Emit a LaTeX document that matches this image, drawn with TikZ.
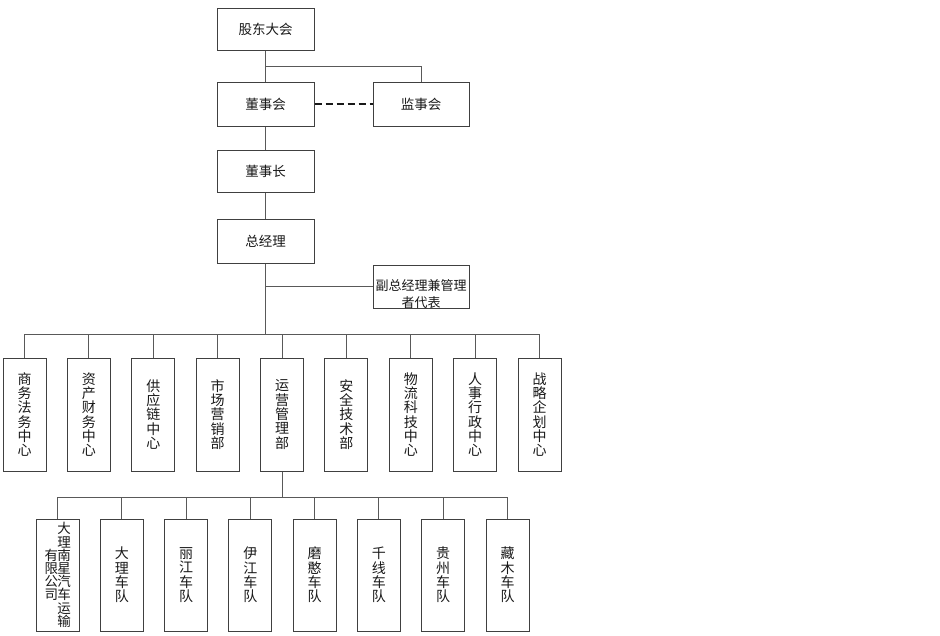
\documentclass[tikz,border=0pt]{standalone}
\usepackage{fontspec}
\setmainfont{Noto Sans CJK SC}
\begin{document}
\begin{tikzpicture}[x=1pt,y=-1pt,
  box/.style={draw=black!75, line width=1pt, inner sep=0pt, align=center,
    text=black!90, font=\fontsize{13.5}{14.3}\selectfont},
  topbox/.style={box, minimum width=97pt, minimum height=43pt},
  colbox/.style={box, minimum width=43pt, minimum height=113pt, font=\fontsize{14}{14.3}\selectfont},
  teambox/.style={box, minimum width=43pt, minimum height=112pt, font=\fontsize{14}{14.3}\selectfont},
  conn/.style={draw=black!65, line width=1pt},
  dashconn/.style={draw=black!90, line width=1.8pt, dash pattern=on 7pt off 4pt}]
\useasboundingbox (0,0) rectangle (940,635);
\fill[white] (0,0) rectangle (940,635);

% top chain
\node[topbox, minimum height=42pt] (gd)  at (265.5,29)  {股东大会};
\node[topbox, minimum height=44pt] (dsh) at (265.5,104) {董事会};
\node[topbox, minimum width=96pt, minimum height=44pt] (jsh) at (421,104) {监事会};
\node[topbox, minimum height=42pt] (dsz) at (265.5,171) {董事长};
\node[topbox, minimum height=44pt] (zjl) at (265.5,241) {总经理};
\node[topbox, minimum width=96pt, minimum height=43pt] (fz) at (421,286.5) {};
\node[box, draw=none, font=\fontsize{13}{17}\selectfont] (fzt) at (421,294.5) {副总经理兼管理\\者代表};

\coordinate (j1) at (265.5,66);
\draw[conn] (gd.south) -- (dsh.north);
\draw[conn] (j1) -| (jsh.north);
\draw[dashconn] (dsh.east) -- (jsh.west);
\draw[conn] (dsh.south) -- (dsz.north);
\draw[conn] (dsz.south) -- (zjl.north);
\coordinate (bar1) at (265.5,334);
\draw[conn] (zjl.south) -- (bar1);
\draw[conn] (zjl.south |- fz.west) -- (fz.west);

% department row
\foreach \i/\name/\txt in {
  0/d1/{商\\务\\法\\务\\中\\心},
  1/d2/{资\\产\\财\\务\\中\\心},
  2/d3/{供\\应\\链\\中\\心},
  3/d4/{市\\场\\营\\销\\部},
  4/d5/{运\\营\\管\\理\\部},
  5/d6/{安\\全\\技\\术\\部},
  6/d7/{物\\流\\科\\技\\中\\心},
  7/d8/{人\\事\\行\\政\\中\\心},
  8/d9/{战\\略\\企\\划\\中\\心}}{
  \node[colbox] (\name) at ({24.5+64.375*\i},414.5) {\txt};
  \draw[conn] (\name.north) -- (\name.north |- bar1);
}
\draw[conn] (d1.north |- bar1) -- (d9.north |- bar1);

% team row
\coordinate (bar2) at (282,497);
\node[teambox] (t1) at (57.5,575) {\parbox[c]{13pt}{\centering\fontsize{13.5}{13}\selectfont 有\\限\\公\\司}\parbox[c]{13pt}{\centering\fontsize{13.5}{13.2}\selectfont 大\\理\\南\\星\\汽\\车\\运\\输}};
\foreach \i/\name/\txt in {
  1/t2/{大\\理\\车\\队},
  2/t3/{丽\\江\\车\\队},
  3/t4/{伊\\江\\车\\队},
  4/t5/{磨\\憨\\车\\队},
  5/t6/{千\\线\\车\\队},
  6/t7/{贵\\州\\车\\队},
  7/t8/{藏\\木\\车\\队}}{
  \node[teambox] (\name) at ({57.5+64.29*\i},575) {\txt};
}
\foreach \name in {t1,t2,t3,t4,t5,t6,t7,t8}{
  \draw[conn] (\name.north) -- (\name.north |- bar2);
}
\draw[conn] (d5.south) -- (bar2);
\draw[conn] (t1.north |- bar2) -- (t8.north |- bar2);
\end{tikzpicture}
\end{document}
